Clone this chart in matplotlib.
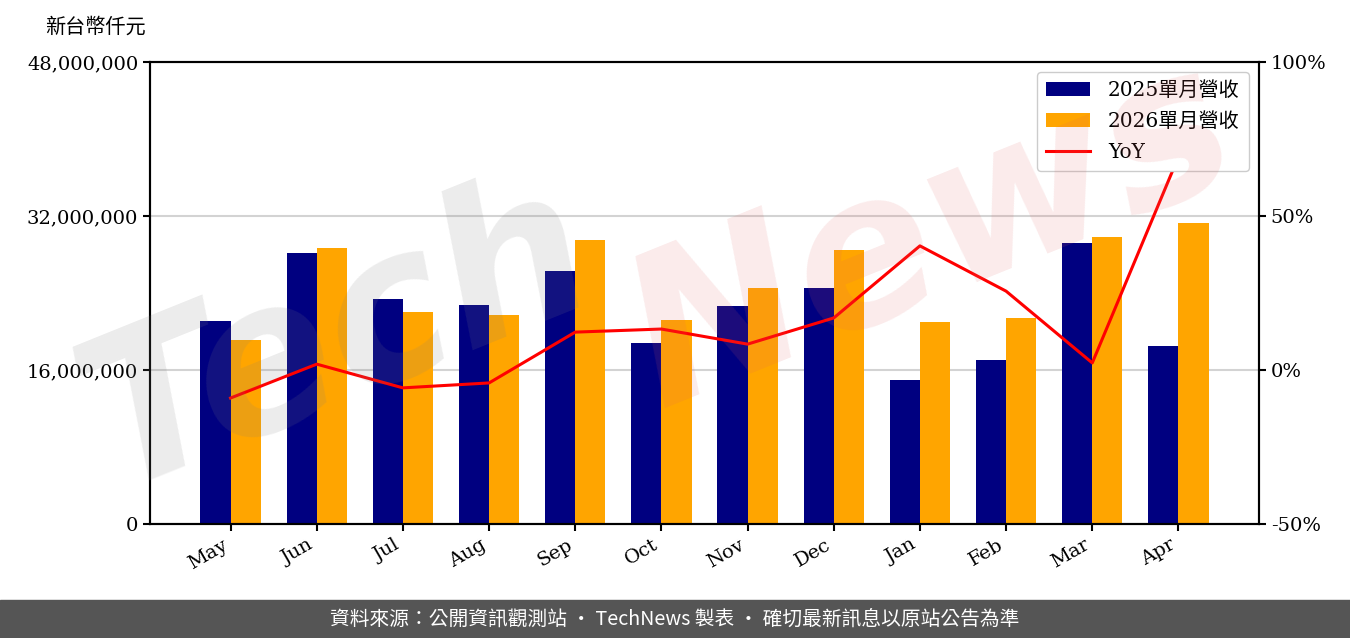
import matplotlib.pyplot as plt
import numpy as np
from matplotlib.ticker import FuncFormatter, FixedLocator

# Data (NT$ thousands)
months = ["May", "Jun", "Jul", "Aug", "Sep", "Oct", "Nov", "Dec", "Jan", "Feb", "Mar", "Apr"]
rev_2025 = [21090000, 28160000, 23380000, 22750000, 26290000, 18810000,
            22650000, 24520000, 14960000, 17040000, 29190000, 18490000]
rev_2026 = [19120000, 28680000, 22030000, 21710000, 29510000, 21190000,
            24520000, 28470000, 20990000, 21400000, 29820000, 31270000]
yoy = [-9.1, 1.9, -5.8, -4.2, 12.3, 13.3, 8.4, 16.9, 40.3, 25.6, 2.3, 69.2]

serif = ["DejaVu Serif", "Noto Sans CJK TC"]
plt.rcParams["font.family"] = serif

fig = plt.figure(figsize=(13.5, 6.38), dpi=100)
ax = fig.add_axes([150 / 1350, 1 - 524 / 638, 1109 / 1350, 462 / 638])
ax2 = ax.twinx()

x = np.arange(len(months))
w = 0.35
b1 = ax.bar(x - w / 2, rev_2025, w, color="#000080", label="2025單月營收", zorder=2)
b2 = ax.bar(x + w / 2, rev_2026, w, color="#FFA500", label="2026單月營收", zorder=2)

ax.set_ylim(0, 48000000)
ax.yaxis.set_major_locator(FixedLocator([0, 16000000, 32000000, 48000000]))
ax.yaxis.set_major_formatter(FuncFormatter(lambda v, p: f"{int(v):,}"))
ax.grid(axis="y", color="#d3d3d3", linewidth=1.5, zorder=0)
ax.set_axisbelow(True)
ax.set_xticks(x)
ax.set_xticklabels(months, rotation=30, ha="right")
ax.tick_params(axis="both", labelsize=14, width=1.5, length=5)

line, = ax2.plot(x, yoy, color="red", linewidth=2.2, label="YoY", zorder=3)
ax2.set_ylim(-50, 100)
ax2.yaxis.set_major_locator(FixedLocator([-50, 0, 50, 100]))
ax2.yaxis.set_major_formatter(FuncFormatter(lambda v, p: f"{int(v)}%"))
ax2.tick_params(axis="y", labelsize=14, width=1.5, length=5)

for a in (ax, ax2):
    for s in a.spines.values():
        s.set_linewidth(1.5)

leg = ax2.legend(handles=[b1, b2, line], loc="upper right",
                 handlelength=2.2, handletextpad=0.9, labelspacing=0.6,
                 borderpad=0.45, framealpha=1,
                 prop={"family": serif, "size": 14.5})
leg.get_frame().set_edgecolor("#cccccc")

fig.text(45 / 1350, 1 - 27 / 638, "新台幣仟元", fontsize=14.5, va="center", ha="left",
         family=["Noto Sans CJK TC"])

# watermark
fig.text(0.25, 0.47, "Tech", fontsize=150, style="italic", fontweight="bold",
         color="gray", alpha=0.15, rotation=22, ha="center", va="center", zorder=10,
         family="DejaVu Sans")
fig.text(0.69, 0.63, "News", fontsize=150, style="italic", fontweight="bold",
         color="#e06060", alpha=0.13, rotation=22, ha="center", va="center", zorder=10,
         family="DejaVu Sans")

# footer
fig.patches.append(plt.Rectangle((0, 0), 1, 38 / 638, transform=fig.transFigure,
                                 color="#555555", zorder=0))
fig.text(0.5, 19 / 638, "資料來源：公開資訊觀測站 · TechNews 製表 · 確切最新訊息以原站公告為準",
         color="white", fontsize=14.2, ha="center", va="center",
         family=["Noto Sans CJK TC", "DejaVu Sans"])

fig.savefig("out.png", dpi=100)
